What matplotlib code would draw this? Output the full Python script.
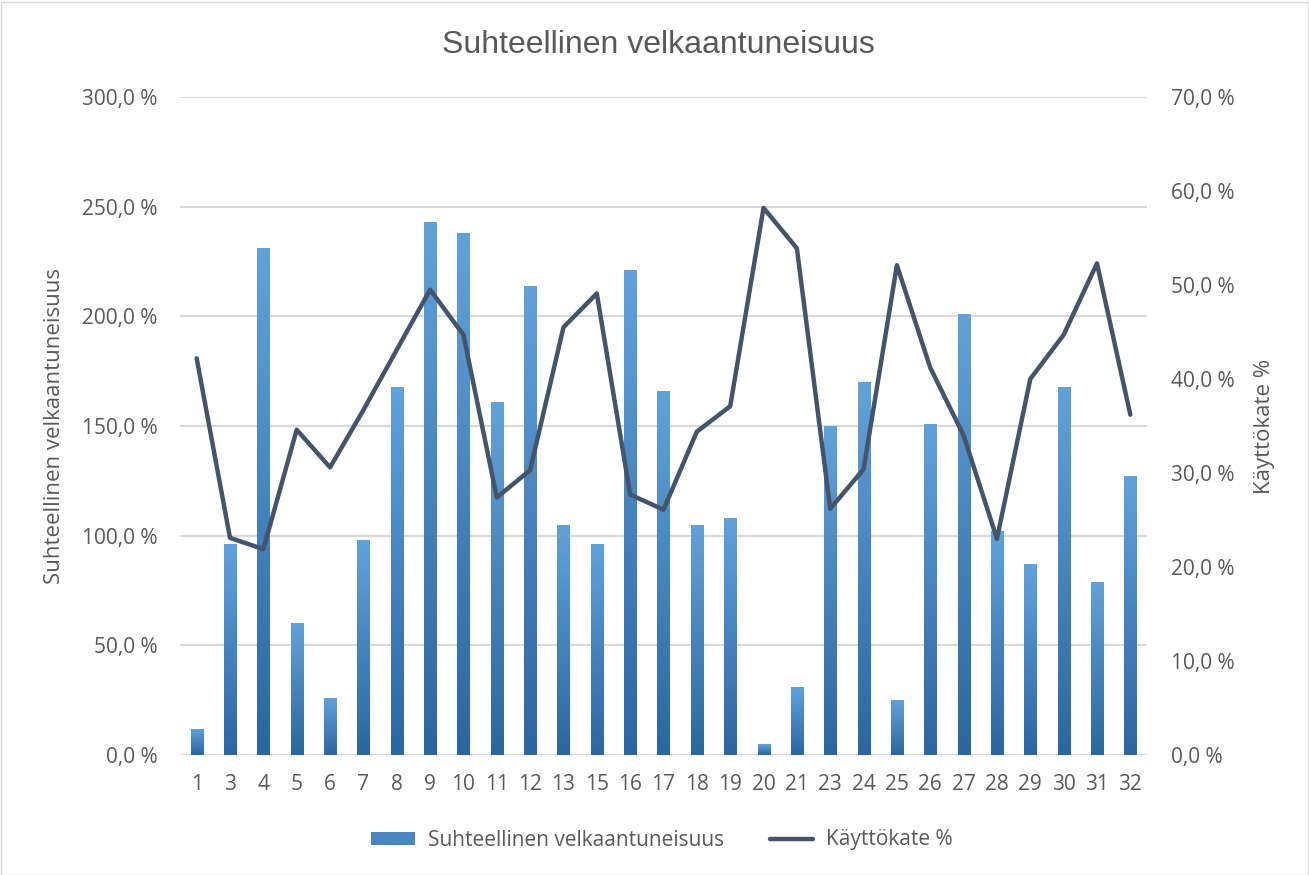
import numpy as np
import matplotlib
matplotlib.use("Agg")
import matplotlib.pyplot as plt
import matplotlib.patches as mpatches
from matplotlib.colors import LinearSegmentedColormap
from matplotlib.ticker import FuncFormatter

# Data
categories = ["1", "3", "4", "5", "6", "7", "8", "9", "10", "11", "12", "13", "15", "16", "17",
              "18", "19", "20", "21", "23", "24", "25", "26", "27", "28", "29", "30", "31", "32"]
velkaantuneisuus = [12, 96, 231, 60, 26, 98, 168, 243, 238, 161, 214, 105, 96, 221, 166,
                    105, 108, 5, 31, 150, 170, 25, 151, 201, 102, 87, 168, 79, 127]
kayttokate = [42.2, 23.1, 21.9, 34.6, 30.6, 36.7, 43.1, 49.5, 44.7, 27.4, 30.3, 45.5, 49.1, 27.7, 26.1,
              34.4, 37.1, 58.2, 53.9, 26.2, 30.4, 52.1, 41.2, 34.0, 23.0, 40.0, 44.7, 52.3, 36.2]

text_color = "#595959"
grid_color = "#d9d9d9"
line_color = "#44546a"
bar_top = "#62a2da"
bar_bottom = "#2b66a0"

plt.rcParams["font.family"] = ["Open Sans", "DejaVu Sans"]

fig = plt.figure(figsize=(13.09, 8.75), dpi=100)
ax = fig.add_axes([180 / 1309, 1 - 755 / 875, (1147 - 180) / 1309, (755 - 97) / 875])
ax2 = ax.twinx()

x = np.arange(len(categories))
bars = ax.bar(x, velkaantuneisuus, width=0.36, color=bar_top, zorder=2)

# vertical gradient inside each bar
cmap = LinearSegmentedColormap.from_list("bar", [bar_bottom, bar_top])
grad = np.linspace(0, 1, 256).reshape(-1, 1)
for b in bars:
    bx, by = b.get_x(), b.get_y()
    w, h = b.get_width(), b.get_height()
    im = ax.imshow(grad, cmap=cmap, aspect="auto", origin="lower",
                   extent=(bx, bx + w, by, by + h), zorder=3)
    im.set_clip_path(b)
    b.set_alpha(0)

pct = FuncFormatter(lambda v, p: f"{v:.1f} %".replace(".", ","))

ax.set_xlim(-0.5, len(categories) - 0.5)
ax.set_ylim(0, 300)
ax.set_yticks(np.arange(0, 301, 50))
ax.yaxis.set_major_formatter(pct)
ax.set_xticks(x)
ax.set_xticklabels(categories)
ax.grid(True, axis="y", color=grid_color, linewidth=1.5, zorder=0)
ax.set_axisbelow(True)

ax2.plot(x, kayttokate, color=line_color, linewidth=3.2, solid_capstyle="round",
         solid_joinstyle="round", zorder=5)
ax2.set_ylim(0, 70)
ax2.set_yticks(np.arange(0, 71, 10))
ax2.yaxis.set_major_formatter(pct)

for a in (ax, ax2):
    for s in a.spines.values():
        s.set_visible(False)
    a.tick_params(length=0, colors=text_color, labelsize=15)
ax.tick_params(axis="y", pad=16)
ax.tick_params(axis="x", pad=14)
ax2.tick_params(axis="y", pad=17)

ax.set_ylabel("Suhteellinen velkaantuneisuus", color=text_color, fontsize=16, labelpad=12)
ax2.set_ylabel("Käyttökate %", color=text_color, fontsize=16, labelpad=14)

fig.text(658 / 1309, 1 - 45 / 875, "Suhteellinen velkaantuneisuus", ha="center", va="center",
         fontsize=23, color=text_color, family=["Liberation Sans", "DejaVu Sans"])

handles = [mpatches.Patch(facecolor="#4a86c0", label="Suhteellinen velkaantuneisuus"),
           plt.Line2D([], [], color=line_color, linewidth=3.2, solid_capstyle="round",
                      label="Käyttökate %")]
fig.legend(handles=handles, loc="center", bbox_to_anchor=(662 / 1309, 1 - 840 / 875), ncol=2,
           frameon=False, fontsize=15, labelcolor=text_color, handlelength=2.1,
           handleheight=0.6, columnspacing=2.2, handletextpad=0.6)

fig.patches.append(mpatches.Rectangle((0.5 / 1309, 0.5 / 875), 1 - 2 / 1309, 1 - 2 / 875,
                                      transform=fig.transFigure, fill=False,
                                      edgecolor="#d9d9d9", linewidth=1))

fig.savefig("out.png", dpi=100)
